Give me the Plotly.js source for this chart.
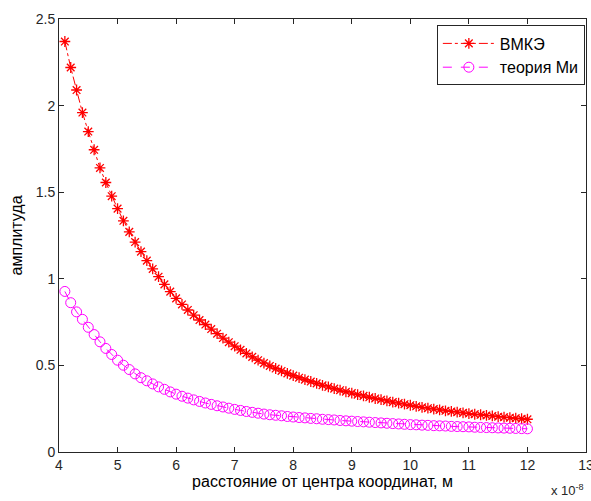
<!DOCTYPE html>
<html>
<head>
<meta charset="utf-8">
<script src="https://cdn.plot.ly/plotly-3.0.1.min.js"></script>
<style>
  html, body { margin: 0; padding: 0; background: #fff; }
  #chart { width: 591px; height: 501px; }
</style>
</head>
<body>
<div id="chart"></div>
<script>
// distance from the centre, in units of 1e-8 m
const distance = [4.1,4.2,4.3,4.4,4.5,4.6,4.7,4.8,4.9,5.0,
  5.1,5.2,5.3,5.4,5.5,5.6,5.7,5.8,5.9,6.0,
  6.1,6.2,6.3,6.4,6.5,6.6,6.7,6.8,6.9,7.0,
  7.1,7.2,7.3,7.4,7.5,7.6,7.7,7.8,7.9,8.0,
  8.1,8.2,8.3,8.4,8.5,8.6,8.7,8.8,8.9,9.0,
  9.1,9.2,9.3,9.4,9.5,9.6,9.7,9.8,9.9,10.0,
  10.1,10.2,10.3,10.4,10.5,10.6,10.7,10.8,10.9,11.0,
  11.1,11.2,11.3,11.4,11.5,11.6,11.7,11.8,11.9,12.0];

// ВМКЭ amplitude
const vmke = [2.37,2.22,2.09,1.96,1.85,1.745,1.64,1.556,1.477,1.405,
  1.335,1.271,1.212,1.157,1.105,1.057,1.012,0.968,0.926,0.887,
  0.852,0.820,0.790,0.762,0.736,0.710,0.683,0.658,0.634,0.611,
  0.590,0.569,0.549,0.530,0.513,0.497,0.482,0.468,0.454,0.441,
  0.429,0.418,0.407,0.396,0.385,0.376,0.366,0.357,0.348,0.340,
  0.331,0.324,0.316,0.309,0.302,0.295,0.288,0.282,0.276,0.270,
  0.264,0.258,0.253,0.248,0.243,0.238,0.234,0.230,0.226,0.222,
  0.218,0.215,0.211,0.208,0.204,0.201,0.198,0.195,0.192,0.189];

// теория Ми amplitude
const mie = [0.927,0.862,0.809,0.766,0.720,0.678,0.636,0.598,0.563,0.530,
  0.501,0.476,0.451,0.429,0.411,0.393,0.376,0.362,0.347,0.334,
  0.322,0.311,0.301,0.292,0.283,0.275,0.267,0.260,0.253,0.246,
  0.240,0.234,0.229,0.224,0.219,0.215,0.212,0.209,0.205,0.202,
  0.199,0.197,0.194,0.192,0.189,0.187,0.185,0.182,0.180,0.178,
  0.176,0.174,0.172,0.170,0.168,0.166,0.164,0.162,0.160,0.158,
  0.157,0.155,0.154,0.152,0.151,0.150,0.148,0.147,0.146,0.145,
  0.143,0.142,0.141,0.140,0.139,0.138,0.137,0.136,0.135,0.134];

const seriesNames = ['ВМКЭ', 'теория Ми'];
const xTicks = [4,5,6,7,8,9,10,11,12,13];
const yTicks = [0,0.5,1,1.5,2,2.5];
const yTickText = ['0','0.5','1','1.5','2','2.5'];

const font = 'Liberation Sans, Arial, Helvetica, sans-serif';

const traces = [
  {
    x: distance, y: vmke, name: seriesNames[0],
    type: 'scatter', mode: 'lines+markers',
    line: {color: '#ff0000', width: 1, dash: 'dashdot'},
    marker: {symbol: 'asterisk-open', size: 9, color: '#ff0000', line: {color: '#ff0000', width: 1.3}}
  },
  {
    x: distance, y: mie, name: seriesNames[1],
    type: 'scatter', mode: 'lines+markers',
    line: {color: '#ff00ff', width: 1, dash: 'dash'},
    marker: {symbol: 'circle-open', size: 10, color: '#ff00ff', line: {color: '#ff00ff', width: 1}}
  }
];

const axisCommon = {
  showgrid: false, zeroline: false,
  showline: true, linecolor: '#262626', linewidth: 1, mirror: 'ticks',
  ticks: 'inside', ticklen: 5, tickcolor: '#262626', tickwidth: 1,
  tickfont: {family: font, size: 14, color: '#262626'}
};

const layout = {
  width: 591, height: 501,
  margin: {l: 59, r: 5, t: 19, b: 49},
  paper_bgcolor: '#ffffff', plot_bgcolor: '#ffffff',
  showlegend: true,
  legend: {
    x: 0.717, y: 0.985, xanchor: 'left', yanchor: 'top',
    bgcolor: '#ffffff', bordercolor: '#262626', borderwidth: 1,
    font: {family: font, size: 16, color: '#000'},
    itemwidth: 52, tracegroupgap: 3
  },
  xaxis: Object.assign({}, axisCommon, {
    range: [4, 13], tickvals: xTicks, ticktext: xTicks.map(String),
    ticklabeloverflow: 'allow',
    title: {text: 'расстояние от центра координат, м', font: {family: font, size: 16, color: '#000'}, standoff: 0}
  }),
  yaxis: Object.assign({}, axisCommon, {
    range: [0, 2.5], tickvals: yTicks, ticktext: yTickText,
    title: {text: 'амплитуда', font: {family: font, size: 16, color: '#000'}, standoff: 9}
  }),
  annotations: [{
    xref: 'paper', yref: 'paper', x: 1.0, y: -0.088, xanchor: 'right', yanchor: 'middle',
    text: 'x 10<sup>-8</sup>', showarrow: false,
    font: {family: font, size: 13, color: '#262626'}
  }]
};

Plotly.newPlot('chart', traces, layout, {displayModeBar: false, staticPlot: true});
</script>
</body>
</html>
